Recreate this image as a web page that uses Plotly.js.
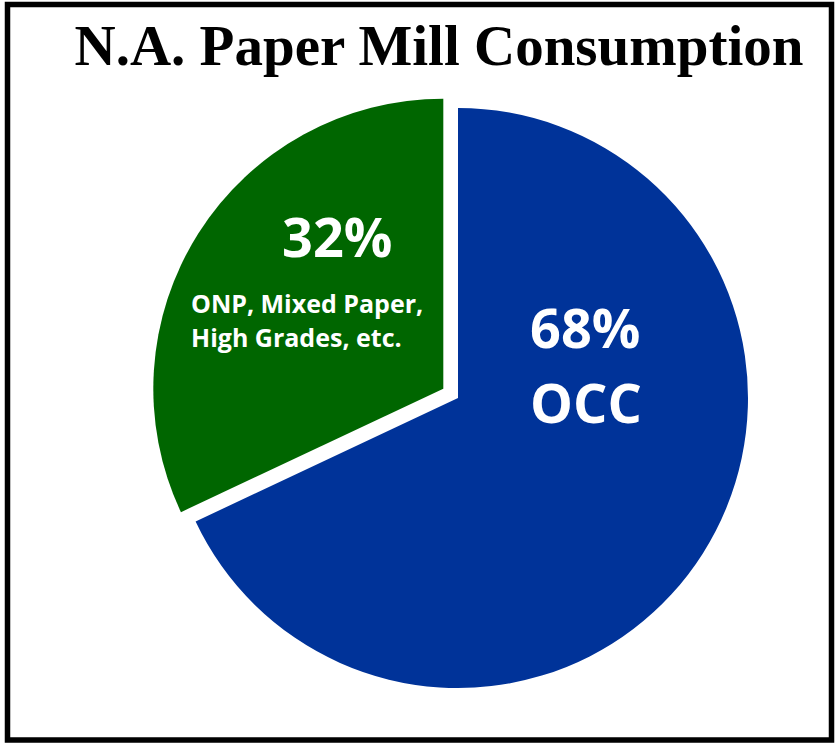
<!DOCTYPE html>
<html>
<head>
<meta charset="utf-8">
<script src="https://cdn.plot.ly/plotly-3.0.1.min.js"></script>
<style>
  html, body { margin: 0; padding: 0; background: #ffffff; }
  #chart { width: 837px; height: 743px; }
</style>
</head>
<body>
<div id="chart"></div>
<script>
// ---- data ----
var titleText = 'N.A. Paper Mill Consumption';
var categories = ['OCC', 'ONP, Mixed Paper, High Grades, etc.'];
var values = [68, 32];
var sliceColors = ['#003399', '#006600'];
var pulls = [0, 0.06];
var pctLabels = ['68%', '32%'];
var otherLabelLines = ['ONP, Mixed Paper,', 'High Grades, etc.'];

var W = 837, H = 743;
function px(x) { return x / W; }
function py(y) { return 1 - y / H; }

var trace = {
  type: 'pie',
  labels: categories,
  values: values,
  sort: false,
  direction: 'clockwise',
  rotation: 0,
  pull: pulls,
  marker: { colors: sliceColors, line: { width: 0 } },
  textinfo: 'none',
  hoverinfo: 'label+percent',
  domain: { x: [px(150.6), px(765.4)], y: [py(705.4), py(90.6)] }
};

var labelFont = { family: '"Open Sans", "DejaVu Sans", sans-serif', color: '#ffffff', weight: 700 };
function f(size) { return Object.assign({}, labelFont, { size: size }); }

var annotations = [
  { text: pctLabels[1], x: px(336.5), y: py(235.8), xanchor: 'center', yanchor: 'middle', font: f(54) },
  { text: otherLabelLines[0], x: px(189), y: py(303.2), xanchor: 'left', yanchor: 'middle', font: f(25) },
  { text: otherLabelLines[1], x: px(189), y: py(337.2), xanchor: 'left', yanchor: 'middle', font: f(25) },
  { text: pctLabels[0], x: px(585), y: py(327.3), xanchor: 'center', yanchor: 'middle', font: f(54) },
  { text: categories[0], x: px(586), y: py(402.3), xanchor: 'center', yanchor: 'middle', font: f(54) }
].map(function (a) {
  return Object.assign({ xref: 'paper', yref: 'paper', showarrow: false }, a);
});

var layout = {
  width: W,
  height: H,
  margin: { l: 0, r: 0, t: 0, b: 0, pad: 0 },
  paper_bgcolor: '#ffffff',
  plot_bgcolor: '#ffffff',
  showlegend: false,
  title: {
    text: '<b>' + titleText + '</b>',
    x: px(439), xref: 'container', xanchor: 'center',
    y: py(65), yref: 'container', yanchor: 'bottom',
    font: { family: '"Liberation Serif", "DejaVu Serif", serif', size: 57, color: '#000000' }
  },
  annotations: annotations,
  shapes: [{
    type: 'rect', xref: 'paper', yref: 'paper',
    x0: px(7.5), x1: px(831.5), y0: py(740), y1: py(4.5),
    line: { color: '#000000', width: 5.5 },
    fillcolor: 'rgba(0,0,0,0)'
  }]
};

Plotly.newPlot('chart', [trace], layout, { displayModeBar: false, staticPlot: true });
</script>
</body>
</html>
